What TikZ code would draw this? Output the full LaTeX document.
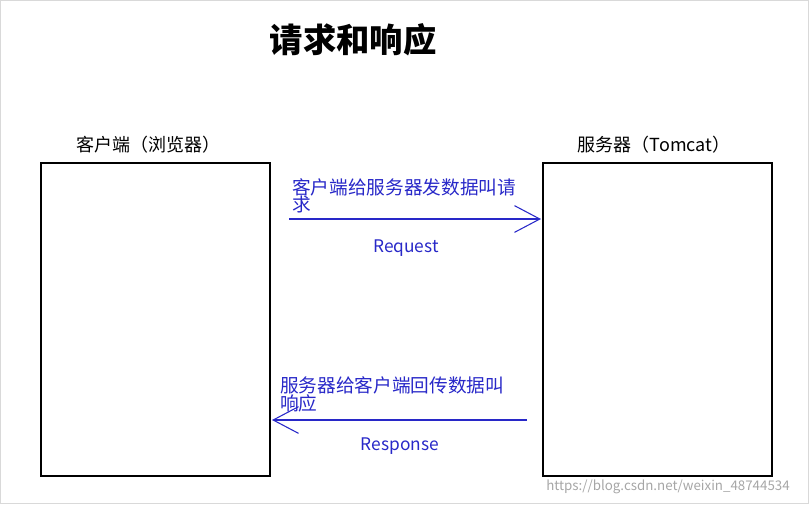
\documentclass[tikz,border=0pt]{standalone}
\usepackage{fontspec}
\setmainfont{Noto Sans CJK SC}
\usetikzlibrary{arrows.meta}
\definecolor{reqblue}{RGB}{40,40,200}
\tikzset{
  box/.style={draw, line width=0.8pt},
  msg/.style={anchor=north west, inner sep=0.75pt, align=left, text=reqblue, font=\fontsize{14}{13}\selectfont},
  flow/.style={draw=reqblue, line width=0.8pt, -{Straight Barb[length=19pt, width=20pt, line width=0.8pt]}},
}
\begin{document}
\begin{tikzpicture}[x=0.75pt,y=0.75pt,yscale=-1,xscale=1]
%frame of the picture
\draw[black!15] (0.5,0.5) rectangle (808.5,503.5);
\useasboundingbox (0,0) rectangle (809,504);

%Shape: client and server boxes
\draw[box] (41,163) rectangle (270,476);
\draw[box] (543,163) rectangle (772,476);
\coordinate (client in) at (272,420);
\coordinate (client out) at (289,219);
\coordinate (server in) at (541,219);
\coordinate (server out) at (527,420);

% Text Node
\node (title) at (353,40) {\fontsize{25}{25}\selectfont\bfseries 请求和响应};
% Text Node
\node (client) at (148,145) {\fontsize{13.5}{13.5}\selectfont 客户端（浏览器）};
% Text Node
\node (server) at (654,145) {\fontsize{13.5}{13.5}\selectfont 服务器（Tomcat）};

%Arrows
\draw[flow] (client out) -- (server in);
\draw[flow] (server out) -- (client in);

% Text Node
\node[msg] (req text) at (291,177) {客户端给服务器发数据叫请\\求};
% Text Node
\node (request) at (406,248) {\textcolor{reqblue}{\fontsize{13}{13}\selectfont Request}};
% Text Node
\node[msg] (res text) at (279,375) {服务器给客户端回传数据叫\\响应};
% Text Node
\node (response) at (400,446) {\textcolor{reqblue}{\fontsize{13}{13}\selectfont Response}};
% Text Node
\node[text=black!35] (mark) at (668,487) {\fontsize{10}{10}\selectfont https://blog.csdn.net/weixin\_48744534};
\end{tikzpicture}
\end{document}
